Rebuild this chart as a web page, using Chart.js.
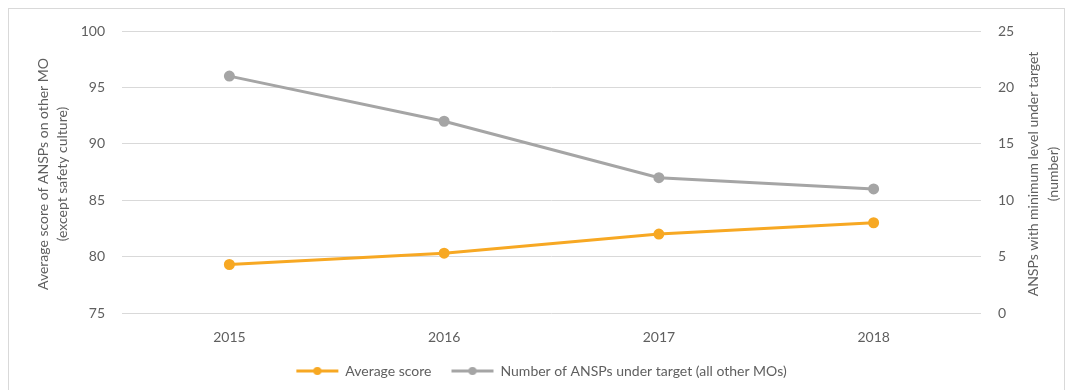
<!DOCTYPE html>
<html>
<head>
<meta charset="utf-8">
<script src="https://cdn.jsdelivr.net/npm/chart.js@4.4.0/dist/chart.umd.min.js"></script>
<style>
html, body { margin: 0; padding: 0; background: #fff; }
</style>
</head>
<body>
<canvas id="myChart" width="1073" height="390"></canvas>
<script>
// data
var years = ['2015', '2016', '2017', '2018'];
var avgScore = [79.3, 80.3, 82.0, 83.0];
var underTarget = [21, 17, 12, 11];
var leftTitle = ['Average score of ANSPs on other MO', '(except safety culture)'];
var rightTitle = ['ANSPs with minimum level under target', '(number)'];

var orange = '#F7A823';
var grey = '#A5A5A5';
var textColor = '#5F5F5F';
var fontFamily = 'Lato, "Open Sans", sans-serif';
var fontSize = 14;

// little legend symbol: line with a dot in the middle (left margin gives the gap between items)
function legendMark(color) {
    var c = document.createElement('canvas');
    c.width = 64; c.height = 10;
    var g = c.getContext('2d');
    g.strokeStyle = color;
    g.lineWidth = 3;
    g.beginPath(); g.moveTo(16, 5); g.lineTo(58, 5); g.stroke();
    g.fillStyle = color;
    g.beginPath(); g.arc(37, 5, 4, 0, Math.PI * 2); g.fill();
    return c;
}

// axis titles drawn bottom-to-top on both sides, plus the outer frame
var extras = {
    id: 'extras',
    afterDraw: function(chart) {
        var c = chart.ctx;
        var mid = (chart.chartArea.top + chart.chartArea.bottom) / 2 + 2;
        c.save();
        c.strokeStyle = '#D9D9D9';
        c.lineWidth = 1;
        c.strokeRect(8.5, 8.5, 1056, 392);
        c.fillStyle = textColor;
        c.font = fontSize + 'px ' + fontFamily;
        c.textAlign = 'center';
        c.textBaseline = 'middle';
        var spots = [[43, leftTitle[0]], [62, leftTitle[1]], [1033, rightTitle[0]], [1053, rightTitle[1]]];
        spots.forEach(function(s) {
            c.save();
            c.translate(s[0], mid);
            c.rotate(-Math.PI / 2);
            c.fillText(s[1], 0, 0);
            c.restore();
        });
        c.restore();
    }
};

var ctx = document.getElementById('myChart').getContext('2d');
var chart = new Chart(ctx, {
    type: 'line',
    data: {
        labels: years,
        datasets: [{
            label: 'Average score',
            data: avgScore,
            yAxisID: 'y',
            borderColor: orange,
            backgroundColor: orange,
            borderWidth: 3,
            pointRadius: 4,
            pointStyle: 'circle',
            legendMark: legendMark(orange)
        },
        {
            label: 'Number of ANSPs under target (all other MOs)',
            data: underTarget,
            yAxisID: 'y2',
            borderColor: grey,
            backgroundColor: grey,
            borderWidth: 3,
            pointRadius: 4,
            pointStyle: 'circle',
            legendMark: legendMark(grey)
        }]
    },
    options: {
        responsive: false,
        animation: false,
        layout: { padding: { top: 31, left: 0, right: 0, bottom: 2 } },
        plugins: {
            tooltip: { enabled: false },
            legend: {
                position: 'bottom',
                labels: {
                    color: textColor,
                    font: { family: fontFamily, size: fontSize },
                    usePointStyle: true,
                    pointStyleWidth: 52,
                    padding: 10,
                    generateLabels: function(chart) {
                        return chart.data.datasets.map(function(ds, i) {
                            return {
                                text: ds.label,
                                pointStyle: ds.legendMark,
                                fontColor: textColor,
                                datasetIndex: i,
                                lineWidth: 0,
                                strokeStyle: 'transparent',
                                fillStyle: 'transparent'
                            };
                        });
                    }
                }
            }
        },
        scales: {
            x: {
                offset: true,
                grid: { display: false },
                border: { display: false },
                ticks: { color: textColor, font: { family: fontFamily, size: fontSize }, padding: 8 },
                afterFit: function(s) { s.height = 41; }
            },
            y: {
                position: 'left',
                min: 75, max: 100,
                ticks: { stepSize: 5, color: textColor, font: { family: fontFamily, size: fontSize }, padding: 17 },
                grid: { color: '#D9D9D9', drawTicks: false },
                border: { display: false },
                afterFit: function(s) { s.width = 122; }
            },
            y2: {
                position: 'right',
                min: 0, max: 25,
                ticks: { stepSize: 5, color: textColor, font: { family: fontFamily, size: fontSize }, padding: 9 },
                grid: { display: false },
                border: { display: false },
                afterFit: function(s) { s.width = 92; }
            }
        }
    },
    plugins: [extras]
});
</script>
</body>
</html>
